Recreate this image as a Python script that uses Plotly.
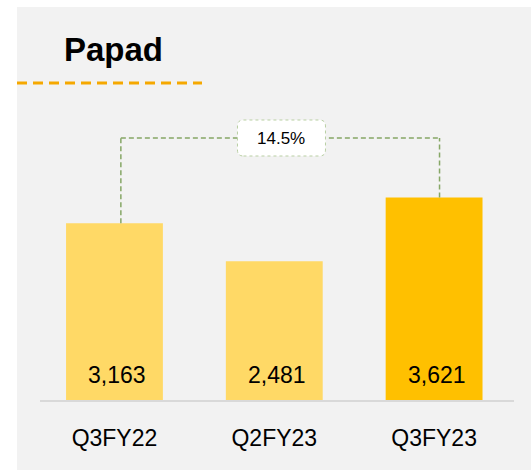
import plotly.graph_objects as go

categories = ["Q3FY22", "Q2FY23", "Q3FY23"]
values = [3163, 2481, 3621]
bar_colors = ["#FFD966", "#FFD966", "#FFC000"]
title_text = "Papad"
growth_label = "14.5%"

FONT = "Liberation Sans, Arial, sans-serif"
x_idx = list(range(len(categories)))

fig = go.Figure()
fig.add_trace(go.Bar(
    x=x_idx, y=values, width=0.606,
    marker=dict(color=bar_colors, line=dict(width=0)),
    hoverinfo="skip",
))

# value labels at bottom of bars
for i, v in zip(x_idx, values):
    fig.add_annotation(x=i, y=0, xref="x", yref="y", text=f"{v:,}",
                       showarrow=False, yanchor="bottom", xshift=3, yshift=10,
                       font=dict(family=FONT, size=23, color="#000000"))

# growth connector
conn_y = 4687
first, last = 0, len(values) - 1
line_style = dict(color="#86A766", width=1.5, dash="5px,3px")
fig.add_shape(type="line", xref="x", yref="y", x0=first + 0.04, x1=first + 0.04,
              y0=values[first], y1=conn_y, line=line_style)
fig.add_shape(type="line", xref="x", yref="y", x0=last + 0.034, x1=last + 0.034,
              y0=values[last], y1=conn_y, line=line_style)
fig.add_shape(type="line", xref="x", yref="y", x0=first + 0.04, x1=last + 0.034,
              y0=conn_y, y1=conn_y, line=line_style)
# rounded label box
box_x = (first + last) / 2 + 0.045
bw, bh, r = 44, 18, 6
path = (f"M {-bw + r},{-bh} L {bw - r},{-bh} Q {bw},{-bh} {bw},{-bh + r} "
        f"L {bw},{bh - r} Q {bw},{bh} {bw - r},{bh} L {-bw + r},{bh} "
        f"Q {-bw},{bh} {-bw},{bh - r} L {-bw},{-bh + r} Q {-bw},{-bh} {-bw + r},{-bh} Z")
fig.add_shape(type="path", xref="x", yref="y", xsizemode="pixel", ysizemode="pixel",
              xanchor=box_x, yanchor=conn_y, path=path,
              fillcolor="#FFFFFF", line=dict(color="#B9CFA3", width=1, dash="dot"))
fig.add_annotation(x=box_x, y=conn_y, xref="x", yref="y",
                   text=growth_label, showarrow=False,
                   font=dict(family=FONT, size=17, color="#000000"))

# background panel
W, H = 531, 470
L, R, T, B = 40, 17, 92, 70
pw, ph = W - L - R, H - T - B
def px_x(p):
    return (p - L) / pw
def px_y(p):
    return (H - B - p) / ph

fig.add_shape(type="rect", xref="paper", yref="paper", layer="below",
              x0=px_x(17), x1=px_x(W), y0=px_y(7), y1=px_y(H),
              fillcolor="#F2F2F2", line=dict(width=0))
# orange dashed rule under title
fig.add_shape(type="line", xref="paper", yref="paper",
              x0=px_x(17), x1=px_x(202), y0=px_y(83), y1=px_y(83),
              line=dict(color="#F5A800", width=3, dash="10px,6px"))
# title
fig.add_annotation(xref="paper", yref="paper", x=px_x(62), y=px_y(49),
                   xanchor="left", yanchor="middle", text=f"<b>{title_text}</b>",
                   showarrow=False, font=dict(family=FONT, size=33, color="#000000"))

fig.update_layout(
    width=W, height=H,
    margin=dict(l=L, r=R, t=T, b=B, pad=0),
    paper_bgcolor="#FFFFFF", plot_bgcolor="rgba(0,0,0,0)",
    showlegend=False,
    xaxis=dict(range=[-0.466, 2.5], tickvals=x_idx, ticktext=categories,
               showgrid=False, zeroline=False, showline=True,
               linecolor="#D9D9D9", linewidth=2, ticks="",
               ticklabelstandoff=16,
               tickfont=dict(family=FONT, size=23, color="#000000"),
               fixedrange=True),
    yaxis=dict(range=[0, 5510], visible=False, fixedrange=True),
)

fig.write_html("out.html", config={"displayModeBar": False},
               post_script="document.body.style.margin='0';")
